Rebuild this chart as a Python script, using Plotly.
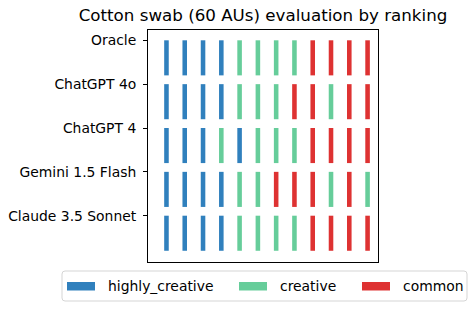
import plotly.graph_objects as go

models = ["Oracle", "ChatGPT 4o", "ChatGPT 4", "Gemini 1.5 Flash", "Claude 3.5 Sonnet"]
# rating per slot (H = highly_creative, C = creative, M = common)
oracle = ["H", "H", "H", "H", "C", "C", "C", "C", "M", "M", "M", "M"]
chatgpt_4o = ["H", "H", "H", "H", "C", "C", "C", "M", "M", "C", "M", "M"]
chatgpt_4 = ["H", "H", "H", "C", "H", "C", "C", "C", "M", "M", "M", "M"]
gemini_15_flash = ["H", "H", "H", "H", "C", "C", "M", "M", "M", "C", "M", "C"]
claude_35_sonnet = ["H", "H", "H", "H", "C", "C", "C", "C", "M", "M", "M", "M"]
rows = [oracle, chatgpt_4o, chatgpt_4, gemini_15_flash, claude_35_sonnet]

categories = ["highly_creative", "creative", "common"]
codes = ["H", "C", "M"]
colors = ["#3080bd", "#66cd9a", "#de3232"]

W, H = 476, 310
L, R, T, B = 148, 98, 30, 48
PW, PH = W - L - R, H - T - B

BAR_H = 0.8
n_rows = len(models)
row_pos = [n_rows - 1 - i for i in range(n_rows)]

fig = go.Figure()
for cat, code, col in zip(categories, codes, colors):
    xs, bases, hs = [], [], []
    for r, seq in zip(row_pos, rows):
        for j, v in enumerate(seq):
            if v == code:
                xs.append(j)
                bases.append(r - BAR_H)
                hs.append(BAR_H)
    fig.add_trace(go.Bar(x=xs, y=hs, base=bases, width=0.25, name=cat,
                         marker=dict(color=col, line=dict(width=0)),
                         showlegend=False))


def px(x):
    return (x - L) / PW


def py(y):
    return 1 - (y - T) / PH


# legend box (matplotlib style, drawn in paper coordinates)
bx0, bx1, by0, by1, rad = 62, 467, 271, 301, 3
path = (f"M {px(bx0+rad)},{py(by0)} L {px(bx1-rad)},{py(by0)} "
        f"Q {px(bx1)},{py(by0)} {px(bx1)},{py(by0+rad)} L {px(bx1)},{py(by1-rad)} "
        f"Q {px(bx1)},{py(by1)} {px(bx1-rad)},{py(by1)} L {px(bx0+rad)},{py(by1)} "
        f"Q {px(bx0)},{py(by1)} {px(bx0)},{py(by1-rad)} L {px(bx0)},{py(by0+rad)} "
        f"Q {px(bx0)},{py(by0)} {px(bx0+rad)},{py(by0)} Z")
shapes = [dict(type="path", xref="paper", yref="paper", path=path,
               line=dict(color="#d5d5d5", width=1), fillcolor="white", layer="above")]
annotations = []
swatch_x = [67, 239, 362]
text_x = [107, 279, 402]
for cat, col, sx, tx in zip(categories, colors, swatch_x, text_x):
    shapes.append(dict(type="rect", xref="paper", yref="paper",
                       x0=px(sx), x1=px(sx + 28), y0=py(282), y1=py(290.5),
                       fillcolor=col, line=dict(width=0), layer="above"))
    annotations.append(dict(text=cat, xref="paper", yref="paper", x=px(tx), y=py(286),
                            xanchor="left", yanchor="middle", showarrow=False,
                            font=dict(size=13.9, color="black"),
                            borderpad=0))

fig.update_layout(
    width=W, height=H,
    margin=dict(l=L, r=R, t=T, b=B, autoexpand=False),
    plot_bgcolor="white", paper_bgcolor="white",
    barmode="overlay",
    font=dict(family="DejaVu Sans", color="black", size=13.9),
    title=dict(text="Cotton swab (60 AUs) evaluation by ranking",
               x=(L + PW / 2) / W, xanchor="center", y=1 - 15 / H, yanchor="middle",
               font=dict(size=16.7)),
    xaxis=dict(range=[-1.01, 11.57], showticklabels=False, ticks="",
               showgrid=False, zeroline=False, showline=True, linecolor="black",
               linewidth=1, mirror=True, fixedrange=True),
    yaxis=dict(range=[-1.056, 4.235], tickvals=row_pos, ticktext=models,
               ticks="outside", ticklen=4, tickcolor="black", showgrid=False,
               zeroline=False, showline=True, linecolor="black", linewidth=1,
               mirror=True, tickfont=dict(size=13.9), ticklabelstandoff=4,
               fixedrange=True),
    shapes=shapes,
    annotations=annotations,
    showlegend=False,
)

fig.write_html("out.html", config={"displayModeBar": False},
               post_script="document.body.style.margin='0px';")
